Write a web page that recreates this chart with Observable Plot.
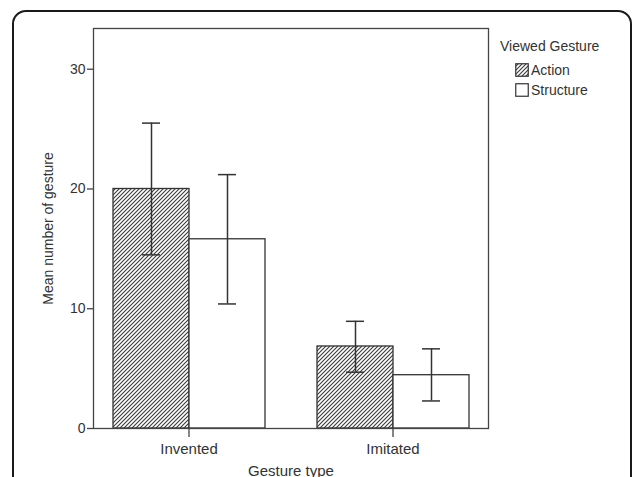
<!DOCTYPE html>
<html>
<head>
<meta charset="utf-8">
<script src="https://cdn.jsdelivr.net/npm/d3@7"></script>
<script src="https://cdn.jsdelivr.net/npm/@observablehq/plot@0.6"></script>
<style>
  html, body { margin: 0; padding: 0; background: #fff; overflow: hidden; }
  body { width: 634px; height: 477px; position: relative; font-family: "Liberation Sans", Arial, sans-serif; }
  #border { position: absolute; left: 12px; top: 10px; width: 620px; height: 520px; box-sizing: border-box;
            border: 2px solid #1a1a1a; border-radius: 14px; }
  #chart { position: absolute; left: 0; top: 0; }
  #legend { position: absolute; left: 500px; top: 36px; color: #333; font-size: 14px; line-height: 20px; }
  #legend .item { display: flex; align-items: center; margin-left: 15px; }
  #legend .title { margin-bottom: 4px; }
  #legend svg { margin-right: 2px; }
</style>
</head>
<body>
<svg width="0" height="0" style="position:absolute">
  <defs>
    <pattern id="hatch" patternUnits="userSpaceOnUse" width="4" height="4">
      <rect width="4" height="4" fill="#fff"/>
      <path d="M-1,1 l2,-2 M0,4 l4,-4 M3,5 l2,-2" stroke="#3a3a3a" stroke-width="1.1"/>
    </pattern>
  </defs>
</svg>
<div id="border"></div>
<div id="chart"></div>
<div id="legend"></div>
<script>
const gestureTypes = ["Invented", "Imitated"];
const viewedGestures = ["Action", "Structure"];
const meanAction = [20.0, 6.85];
const meanStructure = [15.8, 4.45];
const lowerAction = [14.5, 4.7];
const upperAction = [25.5, 8.95];
const lowerStructure = [10.4, 2.3];
const upperStructure = [21.2, 6.65];
const yTicks = [0, 10, 20, 30];

const data = [];
gestureTypes.forEach((t, i) => {
  data.push({type: t, viewed: "Action", mean: meanAction[i], lo: lowerAction[i], hi: upperAction[i]});
  data.push({type: t, viewed: "Structure", mean: meanStructure[i], lo: lowerStructure[i], hi: upperStructure[i]});
});

const ink = "#333";
const chart = Plot.plot({
  width: 634,
  height: 477,
  marginLeft: 93,
  marginRight: 146,
  marginTop: 28,
  marginBottom: 49,
  style: {fontFamily: "Liberation Sans, Arial, sans-serif", fontSize: "14px", color: ink, background: "transparent"},
  fx: {domain: gestureTypes, paddingInner: 0.064, paddingOuter: 0, label: "Gesture type"},
  x: {domain: viewedGestures, paddingInner: 0, paddingOuter: 0.248, axis: null},
  y: {domain: [0, 33.4]},
  color: {domain: viewedGestures, range: ["url(#hatch)", "#fff"]},
  marks: [
    Plot.barY(data, {fx: "type", x: "viewed", y: "mean", fill: "viewed", stroke: "#333", strokeWidth: 1.3}),
    Plot.ruleX(data, {fx: "type", x: "viewed", y1: "lo", y2: "hi", stroke: "#333", strokeWidth: 1.5}),
    Plot.tickY(data, {fx: "type", x: "viewed", y: "hi", stroke: "#333", strokeWidth: 1.5, insetLeft: 29, insetRight: 29}),
    Plot.tickY(data, {fx: "type", x: "viewed", y: "lo", stroke: "#333", strokeWidth: 1.5, insetLeft: 29, insetRight: 29}),
    Plot.frame({facet: "super", stroke: "#444", strokeWidth: 1.3}),
    Plot.axisY({ticks: yTicks, tickSize: 6, tickPadding: 2, tickFormat: d => d, label: "Mean number of gesture",
                labelAnchor: "center", labelArrow: "none", labelOffset: 50, stroke: "#444", strokeWidth: 1.3, fill: ink}),
    Plot.axisFx({anchor: "bottom", tickSize: 9, tickPadding: 6, fontSize: 15, label: "Gesture type", labelAnchor: "center",
                 labelArrow: "none", labelOffset: 47, stroke: "#444", strokeWidth: 1.3, fill: ink})
  ]
});
document.getElementById("chart").appendChild(chart);

// Legend
const legend = d3.select("#legend");
legend.append("div").attr("class", "title").text("Viewed Gesture");
viewedGestures.forEach(v => {
  const item = legend.append("div").attr("class", "item");
  const s = item.append("svg").attr("width", 14).attr("height", 14);
  s.append("rect").attr("x", 0.75).attr("y", 0.75).attr("width", 12.5).attr("height", 12.5)
    .attr("fill", v === "Action" ? "url(#hatch)" : "#fff").attr("stroke", "#333").attr("stroke-width", 1.2);
  item.append("span").text(v);
});
</script>
</body>
</html>
